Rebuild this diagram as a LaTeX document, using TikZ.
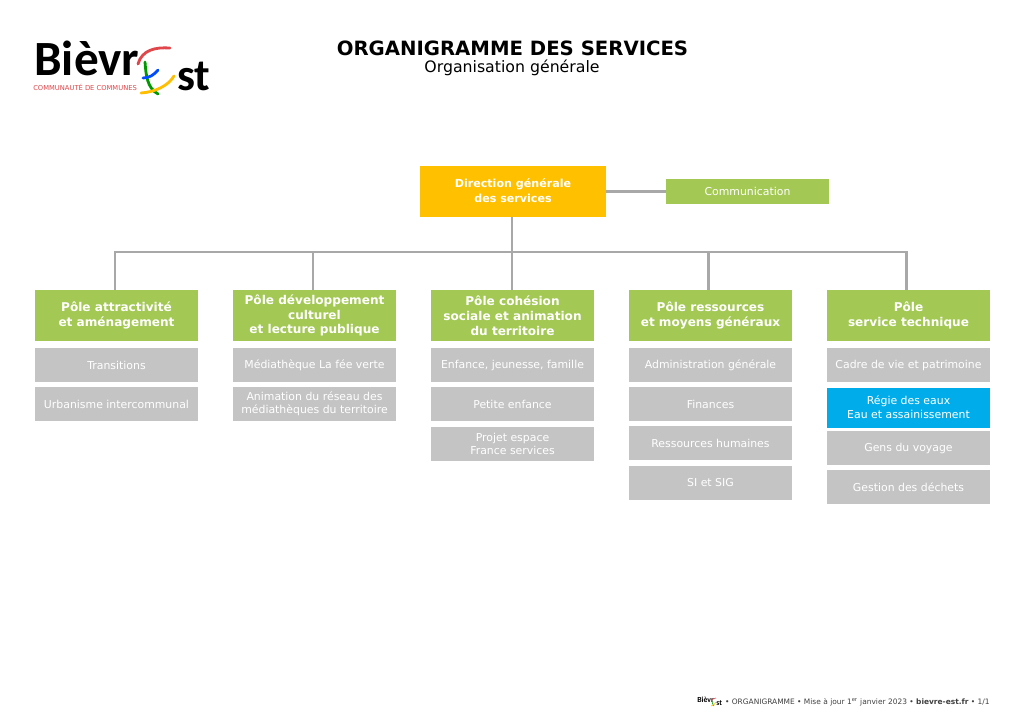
\documentclass[tikz,border=0pt]{standalone}
\usepackage{fontspec}
\setmainfont{DejaVu Sans}
\newfontfamily\logofont{Carlito}
\usetikzlibrary{positioning}

\definecolor{polegreen}{HTML}{A3C853}
\definecolor{servgrey}{HTML}{C4C4C4}
\definecolor{regieblue}{HTML}{00ADEA}
\definecolor{dirgold}{HTML}{FFC000}
\definecolor{linkgrey}{HTML}{A8A8A8}
\definecolor{logored}{HTML}{E0464A}

\tikzset{
  x=0.025cm, y=-0.025cm,
  polebox/.style={fill=polegreen, text=white, align=center, inner sep=0pt,
    minimum width=163*0.025cm, minimum height=51*0.025cm,
    font=\fontsize{8.6}{10.6}\selectfont\bfseries},
  servbox/.style={fill=servgrey, text=white, align=center, inner sep=0pt,
    minimum width=163*0.025cm, minimum height=34*0.025cm,
    font=\fontsize{7.75}{9.3}\selectfont},
  link/.style={linkgrey, line width=1.5pt},
  stroke/.style={line width=2pt, line cap=round}
}

\begin{document}
\begin{tikzpicture}
\useasboundingbox (0, 0) rectangle (1024, 724);
\fill[white] (0, 0) rectangle (1024, 724);

% logo
\node[anchor=base west, inner sep=0pt, font=\logofont\fontsize{35}{35}\selectfont\bfseries] (logobievre) at (34, 75) {Bièvr};
\node[anchor=base west, inner sep=0pt, font=\logofont\fontsize{32}{32}\selectfont\bfseries] (logost) at (177, 90) {st};
\node[anchor=west, inner sep=0pt, text=logored, font=\fontsize{4.8}{5}\selectfont] (logotag) at (33, 87) {COMMUNAUTÉ DE COMMUNES};
\draw[stroke, logored] (138, 64) .. controls (142, 50) and (155, 47) .. (170, 48);
\draw[stroke, green!60!black] (145, 62) .. controls (146, 75) and (147, 88) .. (158, 94);
\draw[stroke, blue!70!cyan] (143, 78) .. controls (149, 78) and (154, 75) .. (158, 70);
\draw[stroke, orange!50!yellow] (141, 93) .. controls (155, 92) and (168, 86) .. (174, 76);

% titles
\node[font=\fontsize{14}{17}\selectfont\bfseries] (maintitle) at (512.5, 48) {ORGANIGRAMME DES SERVICES};
\node[font=\fontsize{11.2}{13}\selectfont] (subtitle) at (512, 68) {Organisation générale};

% top
\node[polebox, fill=dirgold, minimum width=186*0.025cm, font=\fontsize{7.9}{10.6}\selectfont\bfseries] (direction) at (513, 191.5) {\raisebox{1pt}{Direction générale}\\\raisebox{1pt}{des services}};
\node[polebox, font=\fontsize{7.75}{9.3}\selectfont, minimum height=25*0.025cm] (comm) at (747.5, 191.5) {\raisebox{0.7pt}{Communication}};

% poles
\node[polebox] (pole1) at (116.5, 315.5) {Pôle attractivité\\et aménagement};
\node[polebox] (pole2) at (314.5, 315.5) {Pôle développement\\culturel\\et lecture publique};
\node[polebox] (pole3) at (512.5, 315.5) {Pôle cohésion\\sociale et animation\\du territoire};
\node[polebox] (pole4) at (710.5, 315.5) {Pôle ressources\\et moyens généraux};
\node[polebox] (pole5) at (908.5, 315.5) {Pôle\\service technique};

% services
\node[servbox] (s11) at (116.5, 365) {Transitions};
\node[servbox] (s12) at (116.5, 404) {Urbanisme intercommunal};

\node[servbox] (s21) at (314.5, 365) {Médiathèque La fée verte};
\node[servbox] (s22) at (314.5, 404) {Animation du réseau des\\médiathèques du territoire};

\node[servbox] (s31) at (512.5, 365) {Enfance, jeunesse, famille};
\node[servbox] (s32) at (512.5, 404) {Petite enfance};
\node[servbox] (s33) at (512.5, 444) {Projet espace\\France services};

\node[servbox] (s41) at (710.5, 365) {Administration générale};
\node[servbox] (s42) at (710.5, 404) {Finances};
\node[servbox] (s43) at (710.5, 443) {Ressources humaines};
\node[servbox] (s44) at (710.5, 483) {SI et SIG};

\node[servbox] (s51) at (908.5, 365) {Cadre de vie et patrimoine};
\node[servbox, fill=regieblue, minimum height=40*0.025cm] (s52) at (908.5, 407.5) {\raisebox{1pt}{Régie des eaux}\\\raisebox{0.7pt}{Eau et assainissement}};
\node[servbox] (s53) at (908.5, 448) {Gens du voyage};
\node[servbox] (s54) at (908.5, 487) {Gestion des déchets};

% connectors
\coordinate (bus1) at (115, 252);
\coordinate (bus2) at (313, 252);
\coordinate (bus3) at (512, 252);
\coordinate (bus4) at (708.5, 252);
\coordinate (bus5) at (906.5, 252);

\draw[link] (direction.east) -- (comm.west);
\draw[link] (bus3 |- direction.south) -- (bus3 |- pole3.north);
\draw[link] (bus1 |- pole1.north) -- (bus1) -- (bus5) -- (bus5 |- pole5.north);
\draw[link] (bus2) -- (bus2 |- pole2.north);
\draw[link] (bus4) -- (bus4 |- pole4.north);

% footer
\node[anchor=east, inner sep=0pt, text=black!75, font=\fontsize{5.3}{6}\selectfont] (footer) at (990, 702) {• ORGANIGRAMME • Mise à jour 1\textsuperscript{er} janvier 2023 • \textbf{bievre-est.fr} • 1/1};
\node[anchor=base west, inner sep=0pt, font=\logofont\fontsize{5.5}{6}\selectfont\bfseries] (footlogo) at (697, 702) {Bièvr};
\node[anchor=base west, inner sep=0pt, font=\logofont\fontsize{5.5}{6}\selectfont\bfseries] (footst) at (716, 705) {st};
\draw[logored, line width=0.4pt] (711, 701) .. controls (712, 699) and (714, 698) .. (716, 698);
\draw[green!60!black, line width=0.4pt] (712, 701) .. controls (712, 703) and (713, 705) .. (714, 706);
\draw[orange!50!yellow, line width=0.4pt] (711, 706) .. controls (713, 706) and (715, 704) .. (716, 702);
\end{tikzpicture}
\end{document}
